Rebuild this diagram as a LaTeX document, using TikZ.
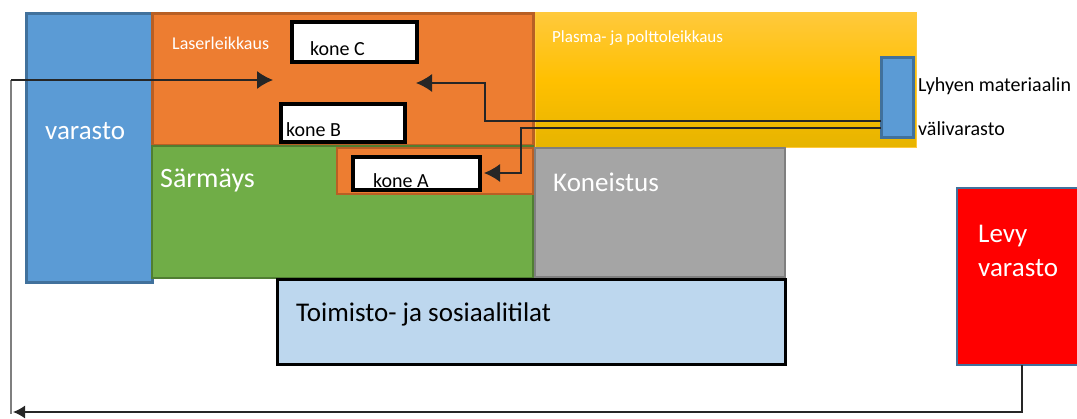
\documentclass[tikz,border=0pt]{standalone}
\usepackage{fontspec}
\setmainfont{Carlito}
\usetikzlibrary{arrows.meta}
\definecolor{bl}{HTML}{5B9BD5}
\definecolor{blb}{HTML}{41719C}
\definecolor{orf}{HTML}{ED7D31}
\definecolor{orb}{HTML}{B85F24}
\definecolor{grf}{HTML}{70AD47}
\definecolor{grb}{HTML}{507E32}
\definecolor{gyf}{HTML}{A5A5A5}
\definecolor{gyb}{HTML}{7F7F7F}
\definecolor{lbf}{HTML}{BDD7EE}
\definecolor{ytop}{HTML}{FFC93C}
\definecolor{ymid}{HTML}{FFC000}
\definecolor{ybot}{HTML}{E6B400}
\tikzset{
  bigarrow/.style={arrows={-Latex[length=16pt,width=18pt]}},
  smallarrow/.style={arrows={-Latex[length=12pt,width=13pt]}}}
\begin{document}
\begin{tikzpicture}[x=1pt,y=-1pt,
  area/.style={inner sep=0pt,outer sep=0pt,anchor=north west},
  kone/.style={area,fill=white,draw=black,line width=3.5pt},
  lab/.style={anchor=base west,inner sep=0pt,font=\fontsize{27}{30}\selectfont,text=white},
  small/.style={anchor=base west,inner sep=0pt,font=\fontsize{20}{22}\selectfont},
  conn/.style={line width=1.4pt,draw=black!85}]
\useasboundingbox (0,0) rectangle (1077,419);
% areas
\node[area,fill=bl,draw=blb,line width=3pt,minimum width=126pt,minimum height=269pt] (var) at (26,14) {};
\node[area,fill=orf,draw=orb,line width=3pt,minimum width=381pt,minimum height=132pt] (laser) at (152,14) {};
\node[area,fill=grf,draw=grb,line width=2.5pt,minimum width=381pt,minimum height=132pt] (sarm) at (152,146) {};
\node[area,fill=orf,draw=orb,line width=2.5pt,minimum width=196pt,minimum height=46pt] (koneAarea) at (337,148) {};
\node[area,top color=ytop,bottom color=ybot,middle color=ymid,draw=ytop,line width=1pt,minimum width=381pt,minimum height=135pt] (plasma) at (535,13) {};
\node[area,fill=gyf,draw=gyb,line width=2.5pt,minimum width=250pt,minimum height=129pt] (kon) at (535,148) {};
\node[area,fill=lbf,draw=black,line width=3pt,minimum width=508pt,minimum height=85pt] (toim) at (277,280) {};
\node[area,fill=red,draw=blb,line width=2.5pt,minimum width=125pt,minimum height=177pt] (levy) at (957,188) {};
\node[area,fill=bl,draw=blb,line width=3pt,minimum width=32pt,minimum height=80pt] (vali) at (881,58) {};
% machines
\node[kone,minimum width=125pt,minimum height=40pt] (kC) at (292,22) {};
\node[kone,minimum width=124pt,minimum height=38pt] (kB) at (281,104) {};
\node[kone,minimum width=127pt,minimum height=33pt] (kA) at (353,157) {};
% labels
\node[lab] (tvar) at (45,140) {varasto};
\node[lab,font=\fontsize{18}{20}\selectfont] (tlas) at (172,50) {Laserleikkaus};
\node[lab,font=\fontsize{28}{30}\selectfont] (tsar) at (160,188) {Särmäys};
\node[lab] (tkon) at (553,192) {Koneistus};
\node[lab,font=\fontsize{17}{19}\selectfont] (tpla) at (552,43) {Plasma- ja polttoleikkaus};
\node[lab,text=black] (ttoim) at (296,322) {Toimisto- ja sosiaalitilat};
\node[lab] (tlevy1) at (978,243) {Levy};
\node[lab] (tlevy2) at (978,277) {varasto};
\node[small] (tkC) at (310,56) {kone C};
\node[small] (tkB) at (286,137) {kone B};
\node[small] (tkA) at (373,188) {kone A};
\node[small] (tly1) at (918,92) {Lyhyen materiaalin};
\node[small] (tly2) at (918,136) {välivarasto};
% connectors
\coordinate (s1) at (11,414);
\coordinate (e1) at (273,80);
\draw[conn,draw=gyb] (s1) -- (s1 |- e1);
\draw[conn,bigarrow] (s1 |- e1) -- (e1);
\coordinate (s2) at (881,121);
\coordinate (e2) at (416,83);
\draw[conn,bigarrow] (s2) -- (485,121) -- (485,83) -- (e2);
\coordinate (s3) at (881,128);
\coordinate (e3) at (484,173);
\draw[conn,bigarrow] (s3) -- (521,128) -- (521,173) -- (e3);
\coordinate (e4) at (13,412);
\draw[conn,smallarrow] (levy.south -| 1022,0) -- (1022,412) -- (e4);
\end{tikzpicture}
\end{document}
